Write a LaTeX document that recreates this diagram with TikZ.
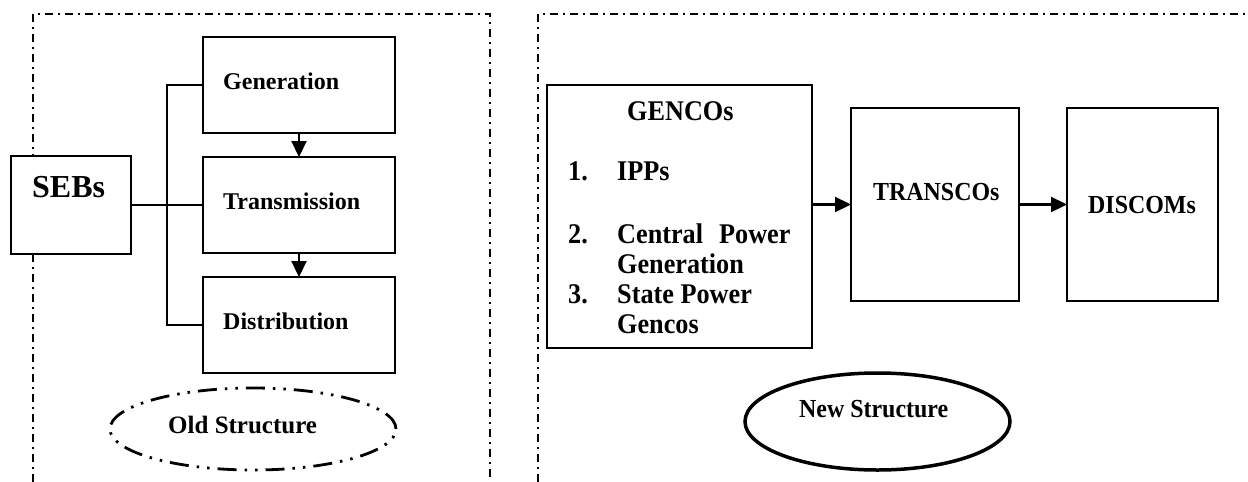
\documentclass[tikz,border=0pt]{standalone}
\usepackage{fontspec}
\setmainfont{Liberation Serif}
\newfontfamily\narrowserif[FakeStretch=0.92]{Liberation Serif}
\usetikzlibrary{arrows.meta,shapes.geometric}
\begin{document}
\begin{tikzpicture}[x=1pt,y=-1pt,
  box/.style={draw, line width=2.2pt, fill=white, inner sep=0pt, outer sep=0pt, anchor=north west},
  frame/.style={line width=1.4pt, dash pattern=on 8pt off 5pt on 2pt off 5pt},
  link/.style={line width=2.2pt},
  arr/.style={line width=2.2pt, -{Triangle[length=16pt,width=15pt]}},
  lbl/.style={anchor=base west, inner sep=0pt, font=\bfseries\fontsize{24}{29}\selectfont},
  rlbl/.style={anchor=base west, inner sep=0pt, font=\narrowserif\bfseries\fontsize{28.5}{34}\selectfont},
  tag/.style={anchor=base west, inner sep=0pt, font=\narrowserif\bfseries\fontsize{26}{31}\selectfont},
]
\useasboundingbox (0,0) rectangle (1248,482);
\fill[white] (0,0) rectangle (1248,482);

% dash-dot frames around the two structures
\draw[frame] (33,482) -- (33,14) -- (490,14) -- (490,482);
\draw[frame] (538,482) -- (538,14) -- (1248,14);

% ---------- old structure ----------
\node[box, minimum width=120pt, minimum height=98pt] (sebs) at (11,156) {};
\node[box, minimum width=192pt, minimum height=96pt] (gen) at (203,37) {};
\node[box, minimum width=192pt, minimum height=96pt] (trans) at (203,157) {};
\node[box, minimum width=192pt, minimum height=96pt] (dist) at (203,277) {};

\node[lbl, font=\bfseries\fontsize{32}{38}\selectfont] (sebstxt) at (32,197) {SEBs};
\node[lbl] (gentxt) at (223,89) {Generation};
\node[lbl] (transtxt) at (223,209) {Transmission};
\node[lbl] (disttxt) at (223,329) {Distribution};

\draw[link] (sebs.east) -- (trans.west);
\draw[link] (gen.west) -- ++(-36,0) |- (dist.west);
\draw[arr] (gen.south) -- (trans.north);
\draw[arr] (trans.south) -- (dist.north);

\node[ellipse, draw, line width=2.8pt, minimum width=286pt, minimum height=82pt, inner sep=0pt,
  dash pattern=on 19pt off 8pt on 2.5pt off 8pt on 2.5pt off 8pt] (oldell) at (253,429) {};
\node[lbl, font=\bfseries\fontsize{25}{30}\selectfont] (oldtxt) at (168,433) {Old Structure};

% ---------- new structure ----------
\node[box, minimum width=265pt, minimum height=263pt] (gencos) at (547,85) {};
\node[box, minimum width=168pt, minimum height=193pt] (transco) at (851,108) {};
\node[box, minimum width=151pt, minimum height=193pt] (discom) at (1067,108) {};

\node[rlbl] (gencostxt) at (627,120) {GENCOs};
\node[rlbl] (n1) at (568,180) {1.};
\node[rlbl] (i1) at (617,180) {IPPs};
\node[rlbl] (n2) at (568,243) {2.};
\node[rlbl] (i2) at (617,243) {Central\hspace{16pt}Power};
\node[rlbl] (i2b) at (617,273) {Generation};
\node[rlbl] (n3) at (568,303) {3.};
\node[rlbl] (i3) at (617,303) {State Power};
\node[rlbl] (i3b) at (617,333) {Gencos};

\node[tag] (transcotxt) at (873,200) {TRANSCOs};
\node[tag] (discomtxt) at (1088,213) {DISCOMs};

\draw[arr] (gencos.east |- transco.west) -- (transco.west);
\draw[arr] (transco.east) -- (discom.west);

\node[ellipse, draw, line width=3.5pt, minimum width=265pt, minimum height=97pt, inner sep=0pt] (newell) at (877.5,421.5) {};
\node[tag] (newtxt) at (799,417) {New Structure};
\end{tikzpicture}
\end{document}
